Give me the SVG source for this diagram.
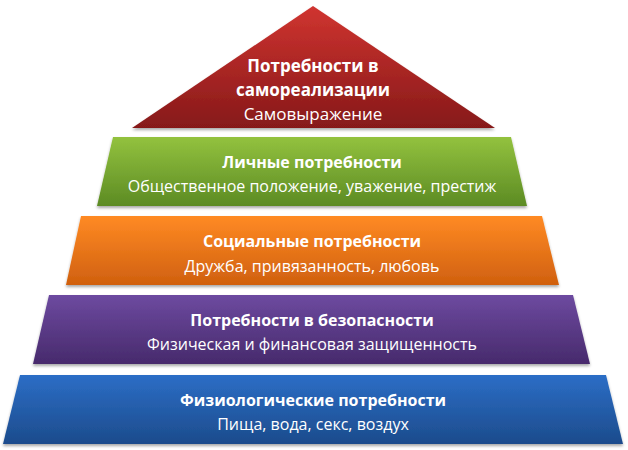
<svg xmlns="http://www.w3.org/2000/svg" width="628" height="450" viewBox="0 0 628 450">
<defs>
<linearGradient id="gRed" x1="0" y1="0" x2="0" y2="1"><stop offset="0" stop-color="#d03430"/><stop offset="1" stop-color="#861919"/></linearGradient>
<linearGradient id="gGreen" x1="0" y1="0" x2="0" y2="1"><stop offset="0" stop-color="#93c23e"/><stop offset="1" stop-color="#5c8b24"/></linearGradient>
<linearGradient id="gOrange" x1="0" y1="0" x2="0" y2="1"><stop offset="0" stop-color="#ff8a24"/><stop offset="1" stop-color="#d0600f"/></linearGradient>
<linearGradient id="gPurple" x1="0" y1="0" x2="0" y2="1"><stop offset="0" stop-color="#6d4aa0"/><stop offset="1" stop-color="#472a6c"/></linearGradient>
<linearGradient id="gBlue" x1="0" y1="0" x2="0" y2="1"><stop offset="0" stop-color="#2c6ec6"/><stop offset="1" stop-color="#1c4b8c"/></linearGradient>
<filter id="sh" x="-5%" y="-10%" width="110%" height="125%">
<feGaussianBlur in="SourceAlpha" stdDeviation="1.5"/>
<feOffset dx="0" dy="2" result="b"/>
<feComponentTransfer><feFuncA type="linear" slope="0.35"/></feComponentTransfer>
<feMerge><feMergeNode/><feMergeNode in="SourceGraphic"/></feMerge>
</filter>
<style>
text{font-family:"Open Sans","Noto Sans","DejaVu Sans",sans-serif;fill:#fff;text-anchor:middle}
.t{font-weight:bold;font-size:16px}
.s{font-size:16px}
.tt{font-weight:bold;font-size:17px}
.ts{font-size:17px}
</style>
</defs>
<rect width="628" height="450" fill="#fff"/>
<g id="level5">
<polygon points="313,6 495,128 132,128" fill="url(#gRed)" filter="url(#sh)"/>
<text class="tt" x="313" y="72">Потребности в</text>
<text class="tt" x="313" y="96">самореализации</text>
<text class="ts" x="313" y="120">Самовыражение</text>
</g>
<g id="level4">
<polygon points="113,137 511,137 527,206 97,206" fill="url(#gGreen)" filter="url(#sh)"/>
<text class="t" x="312" y="168">Личные потребности</text>
<text class="s" x="312" y="192">Общественное положение, уважение, престиж</text>
</g>
<g id="level3">
<polygon points="81,216 542,216 559,285 66,285" fill="url(#gOrange)" filter="url(#sh)"/>
<text class="t" x="312" y="247">Социальные потребности</text>
<text class="s" x="312" y="272">Дружба, привязанность, любовь</text>
</g>
<g id="level2">
<polygon points="49,295 573,295 590,364 33,364" fill="url(#gPurple)" filter="url(#sh)"/>
<text class="t" x="312" y="326">Потребности в безопасности</text>
<text class="s" x="312" y="350">Физическая и финансовая защищенность</text>
</g>
<g id="level1">
<polygon points="20,375 606,375 623,444 3,444" fill="url(#gBlue)" filter="url(#sh)"/>
<text class="t" x="313" y="406">Физиологические потребности</text>
<text class="s" x="313" y="430">Пища, вода, секс, воздух</text>
</g>
<g id="connectors"/>
</svg>
